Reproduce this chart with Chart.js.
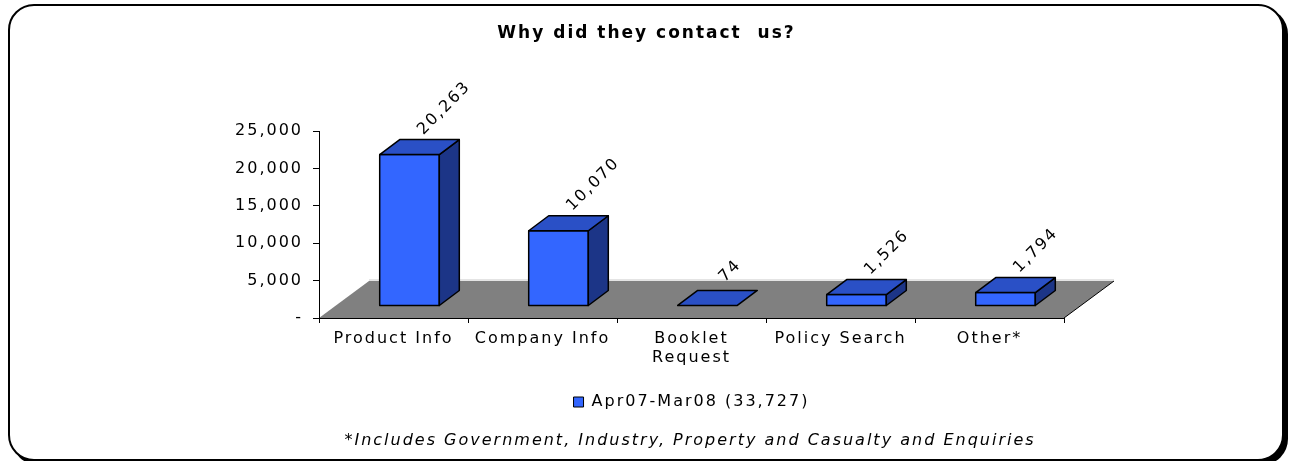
<!DOCTYPE html>
<html lang="en">
<head>
  <meta charset="UTF-8" />
  <title>Why did they contact us?</title>
  <style>
    body {
      margin: 0;
      background: #fff;
      width: 1293px;
      height: 461px;
      overflow: hidden;
      position: relative;
    }
    .moldura {
      position: absolute;
      left: 8px;
      top: 4px;
      width: 1276px;
      height: 457px;
      box-sizing: border-box;
      border: 2px solid #000;
      border-radius: 26px;
      box-shadow: 4px 4px 0 #000;
      background: #fff;
    }
    canvas {
      position: absolute;
      left: 0;
      top: 0;
    }
  </style>
</head>
<body>
  <div class="moldura"></div>
  <canvas id="grafico" width="1293" height="461"></canvas>

  <script src="https://cdn.jsdelivr.net/npm/chart.js"></script>
  <script>
    // dados
    const categorias = ['Product Info', 'Company Info', ['Booklet', 'Request'], 'Policy Search', 'Other*'];
    const contatos = [20263, 10070, 74, 1526, 1794];
    const ticksY = [0, 5000, 10000, 15000, 20000, 25000];
    const serie = 'Apr07-Mar08 (33,727)';
    const titulo = 'Why did they contact  us?';
    const rodape = '*Includes Government, Industry, Property and Casualty and Enquiries';

    const FONTE = 'DejaVu Sans';
    const FRENTE = '#3366FF';
    const TOPO = '#2A50C6';
    const LADO = '#1C3587';

    // deslocamentos do efeito 3D
    const piso = { dx: 50, dy: -37 };
    const posBarra = { dx: 16, dy: -12 };
    const fundoBarra = { dx: 20, dy: -15 };

    function espacamento(chart) {
      chart.ctx.letterSpacing = '2px';
    }

    function poligono(ctx, pts, fill, stroke) {
      ctx.beginPath();
      ctx.moveTo(pts[0][0], pts[0][1]);
      for (let i = 1; i < pts.length; i++) ctx.lineTo(pts[i][0], pts[i][1]);
      ctx.closePath();
      ctx.fillStyle = fill;
      ctx.fill();
      if (stroke) {
        ctx.strokeStyle = stroke;
        ctx.lineWidth = 1.5;
        ctx.lineJoin = 'round';
        ctx.stroke();
      }
    }

    const efeito3D = {
      id: 'efeito3D',
      beforeLayout: espacamento,
      beforeDraw(chart) {
        espacamento(chart);
        const { ctx } = chart;
        const x = chart.scales.x;
        const y0 = chart.scales.y.getPixelForValue(0);
        ctx.save();
        poligono(ctx, [
          [x.left, y0], [x.right, y0],
          [x.right + piso.dx, y0 + piso.dy], [x.left + piso.dx, y0 + piso.dy]
        ], '#808080');
        ctx.strokeStyle = '#e4e4e4';
        ctx.lineWidth = 2;
        ctx.beginPath();
        ctx.moveTo(x.left + piso.dx, y0 + piso.dy - 1);
        ctx.lineTo(x.right + piso.dx, y0 + piso.dy - 1);
        ctx.stroke();
        ctx.strokeStyle = '#000';
        ctx.lineWidth = 1;
        ctx.beginPath();
        ctx.moveTo(x.right, y0);
        ctx.lineTo(x.right + piso.dx, y0 + piso.dy);
        ctx.stroke();
        ctx.restore();
      },
      beforeDatasetDraw() {
        return false;
      },
      afterDatasetsDraw(chart) {
        const { ctx } = chart;
        const meta = chart.getDatasetMeta(0);
        ctx.save();
        meta.data.forEach((barra, i) => {
          const { x, y, base, width } = barra.getProps(['x', 'y', 'base', 'width'], true);
          const x0 = x - width / 2 + posBarra.dx;
          const x1 = x0 + width;
          const yt = y + posBarra.dy;
          const yb = base + posBarra.dy;
          const dx = fundoBarra.dx, dy = fundoBarra.dy;
          if (yb - yt > 1) {
            poligono(ctx, [[x0, yt], [x1, yt], [x1, yb], [x0, yb]], FRENTE, '#000');
            poligono(ctx, [[x1, yt], [x1 + dx, yt + dy], [x1 + dx, yb + dy], [x1, yb]], LADO, '#000');
          }
          poligono(ctx, [[x0, yt], [x1, yt], [x1 + dx, yt + dy], [x0 + dx, yt + dy]], TOPO, '#000');

          // rotulo de valor inclinado
          ctx.save();
          ctx.translate(x + posBarra.dx + dx / 2, yt + dy / 2);
          ctx.rotate(-Math.PI / 4);
          ctx.letterSpacing = '2px';
          ctx.font = '16px "' + FONTE + '"';
          ctx.fillStyle = '#000';
          ctx.textAlign = 'left';
          ctx.textBaseline = 'middle';
          ctx.fillText(contatos[i].toLocaleString('en-US'), i === 2 ? 16 : 11, -10);
          ctx.restore();
        });
        ctx.restore();
      },
      afterDraw(chart) {
        const { ctx } = chart;
        ctx.save();
        ctx.letterSpacing = '2px';
        ctx.font = 'italic 16px "' + FONTE + '"';
        ctx.fillStyle = '#000';
        ctx.textAlign = 'center';
        ctx.textBaseline = 'middle';
        ctx.fillText(rodape, 690, 441);
        ctx.restore();
      }
    };

    const fonte = { family: FONTE, size: 16 };

    new Chart(document.getElementById('grafico'), {
      type: 'bar',
      data: {
        labels: categorias,
        datasets: [{
          label: serie,
          data: contatos,
          backgroundColor: FRENTE,
          borderColor: '#000',
          borderWidth: 1,
          barPercentage: 0.4,
          categoryPercentage: 1
        }]
      },
      options: {
        responsive: false,
        animation: false,
        layout: { padding: { left: 0, right: 0, top: 0, bottom: 41 } },
        plugins: {
          title: {
            display: true,
            text: titulo,
            color: '#000',
            font: { family: FONTE, size: 17, weight: 'bold' },
            padding: { top: 23.5, bottom: 87.3 }
          },
          legend: {
            position: 'bottom',
            fullSize: false,
            labels: {
              boxWidth: 10,
              boxHeight: 10,
              padding: 10,
              color: '#000',
              font: fonte
            }
          },
          tooltip: { enabled: false }
        },
        scales: {
          x: {
            grid: { drawOnChartArea: false, offset: true, tickLength: 5, color: '#000' },
            border: { color: '#000' },
            ticks: { color: '#000', padding: 6, maxRotation: 0, autoSkip: false, font: fonte },
            afterFit: s => { s.height = 66; }
          },
          y: {
            min: ticksY[0],
            max: ticksY[ticksY.length - 1],
            grid: { drawOnChartArea: false, tickLength: 6, color: '#000' },
            border: { color: '#000' },
            ticks: {
              stepSize: ticksY[1] - ticksY[0],
              padding: 10,
              color: '#000',
              font: fonte,
              callback: v => v === 0 ? '-' : v.toLocaleString('en-US')
            },
            afterFit: s => { s.width = 319; }
          },
          direita: {
            position: 'right',
            grid: { display: false },
            border: { display: false },
            ticks: { display: false },
            afterFit: s => { s.width = 229; }
          }
        }
      },
      plugins: [efeito3D]
    });
  </script>
</body>
</html>
